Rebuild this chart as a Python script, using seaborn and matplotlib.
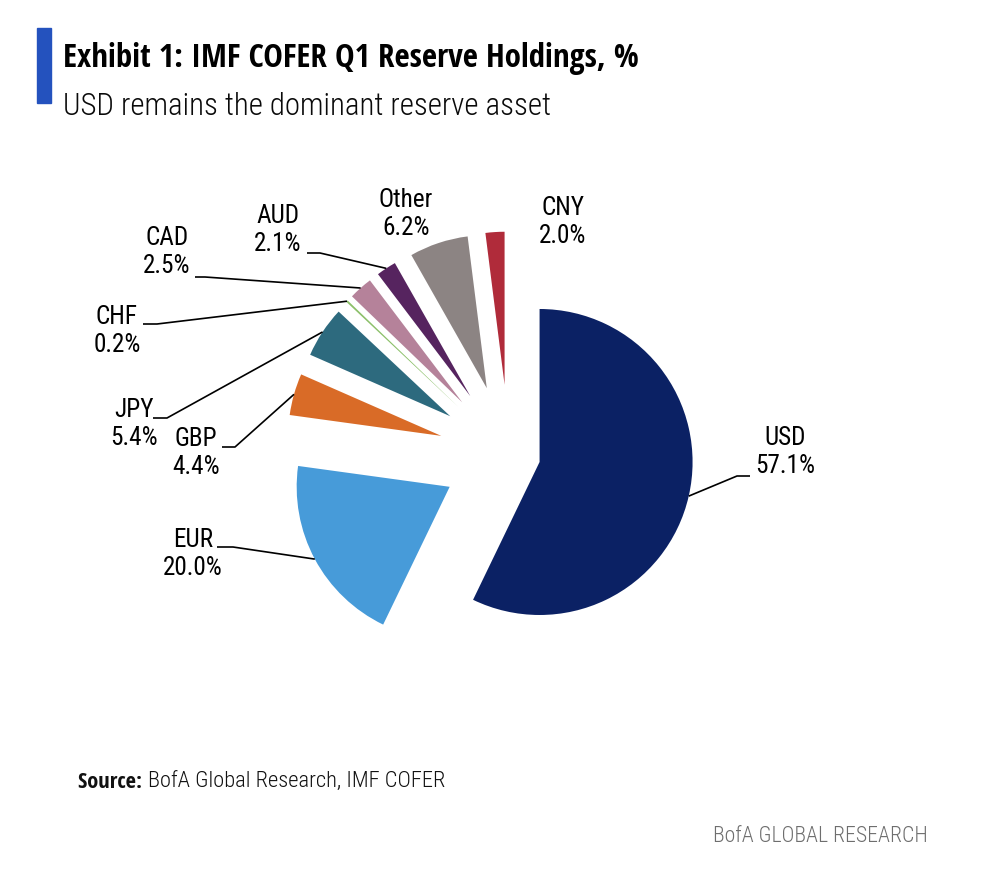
import numpy as np
import pandas as pd
import matplotlib
matplotlib.use("Agg")
import matplotlib.pyplot as plt
import seaborn as sns
from matplotlib import font_manager
from matplotlib.patches import Rectangle

# ---------------- data ----------------
currencies = ["USD", "EUR", "GBP", "JPY", "CHF", "CAD", "AUD", "Other", "CNY"]
shares = [57.1, 20.0, 4.4, 5.4, 0.2, 2.5, 2.1, 6.2, 2.0]

title = "Exhibit 1: IMF COFER Q1 Reserve Holdings, %"
subtitle = "USD remains the dominant reserve asset"
source_bold = "Source:"
source_rest = "BofA Global Research, IMF COFER"
brand = "BofA GLOBAL RESEARCH"

# ---------------- style ----------------
colors = ["#0B2164", "#479BD9", "#D96B27", "#2D6A7E", "#8CC06A",
          "#B5829A", "#56245F", "#8C8483", "#B02B3A"]
explode_frac = [0.205, 0.44, 0.46, 0.46, 0.46, 0.46, 0.46, 0.46, 0.46]

df = pd.DataFrame({"currency": currencies, "share": shares})

sns.set_theme(style="white")


def pick(cands):
    for c in cands:
        try:
            font_manager.findfont(font_manager.FontProperties(family=c),
                                  fallback_to_default=False)
            return c
        except Exception:
            pass
    return "DejaVu Sans"


head_font = pick(["Open Sans Condensed", "Roboto Condensed",
                  "Liberation Sans Narrow", "Open Sans", "Lato"])
light_font = pick(["Open Sans Condensed Light", "Roboto Condensed Light",
                   "Roboto Condensed", "Liberation Sans Narrow", "Open Sans"])
label_font = pick(["Liberation Sans Narrow", "Roboto Condensed",
                   "Liberation Sans", "Arial"])
plt.rcParams["font.family"] = [label_font, "DejaVu Sans"]

W, H = 982, 882
fig = plt.figure(figsize=(W / 100, H / 100), dpi=100)
ax = fig.add_axes([0, 0, 1, 1])

R = 153
cx, cy = 509, 455
wedges, _ = ax.pie(df["share"], colors=colors,
                   explode=[e * R for e in explode_frac],
                   startangle=90, counterclock=False, radius=R,
                   center=(cx, H - cy), wedgeprops=dict(linewidth=0),
                   frame=False)
ax.set_xlim(0, W)
ax.set_ylim(0, H)
ax.set_aspect("equal")
ax.axis("off")


def P(x, y):
    return x, H - y


renderer = fig.canvas.get_renderer()


def fit_width(t, target):
    for _ in range(2):
        w = t.get_window_extent(renderer).width
        t.set_fontsize(t.get_fontsize() * target / w)


# ---------------- labels & leader lines ----------------
label_pos = {"USD": (785, 452), "EUR": (193, 554), "GBP": (196, 453),
             "JPY": (134, 424), "CHF": (117, 331), "CAD": (167, 252),
             "AUD": (278, 230), "Other": (406, 214), "CNY": (563, 222)}
elbows = {"USD": [(737, 476), (750, 476)],
          "EUR": [(233, 547), (217, 547)],
          "GBP": [(235, 447), (222, 447)],
          "JPY": [(167, 418), (153, 418)],
          "CHF": [(157, 324), (143, 324)],
          "CAD": [(205, 277), (195, 277)],
          "AUD": [(320, 253), (307, 253)]}

narrow = label_font in ("Liberation Sans Narrow", "Roboto Condensed")
probe = ax.text(0, 0, "57.1%", fontsize=18, family=[label_font, "DejaVu Sans"])
fit_width(probe, 60 if narrow else 63)
lab_fs = probe.get_fontsize()
probe.remove()

for w, cur, val in zip(wedges, currencies, shares):
    lx, ly = label_pos[cur]
    ax.text(*P(lx, ly), f"{cur}\n{val:.1f}%", ha="center", va="center",
            multialignment="center", fontsize=lab_fs, linespacing=1.18,
            color="black", family=[label_font, "DejaVu Sans"])
    if cur in elbows:
        mid = np.deg2rad((w.theta1 + w.theta2) / 2)
        sx = w.center[0] + w.r * np.cos(mid)
        sy = w.center[1] + w.r * np.sin(mid)
        pts = [P(*p) for p in elbows[cur]]
        xs = [sx] + [p[0] for p in pts]
        ys = [sy] + [p[1] for p in pts]
        ax.plot(xs, ys, color="black", lw=1.2, solid_capstyle="butt")

# ---------------- header / footer ----------------
fig.patches.append(Rectangle((37 / W, 1 - 103 / H), 14 / W, 75 / H,
                             transform=fig.transFigure, color="#2452BE",
                             zorder=5))

HF = [head_font, "DejaVu Sans"]
LF = [light_font, "DejaVu Sans"]
t1 = ax.text(*P(63, 67), title, ha="left", va="baseline", fontsize=20,
             fontweight="bold", color="black", family=HF,
             fontstretch="condensed")
fit_width(t1, 577)
t2 = ax.text(*P(63, 115), subtitle, ha="left", va="baseline", fontsize=20,
             fontweight="light", color="#0A0A0A", family=LF)
fit_width(t2, 487)

# source line: bold part + light part
fs = 14
src = []
for _ in range(3):
    for t in src:
        t.remove()
    sb = ax.text(*P(78, 788), source_bold + " ", ha="left", va="baseline",
                 fontsize=fs, fontweight="bold", color="#111111",
                 family=HF, fontstretch="condensed")
    bb = sb.get_window_extent(renderer)
    sr = ax.text(bb.x1, H - 788, source_rest, ha="left", va="baseline",
                 fontsize=fs, fontweight="light", color="#111111", family=LF)
    src = [sb, sr]
    total = sr.get_window_extent(renderer).x1 - 78
    fs = fs * (444 - 78) / total

tb = ax.text(*P(928, 842), brand, ha="right", va="baseline", fontsize=14,
             fontweight="light", color="#6E6E6E", family=LF)
fit_width(tb, 215)

fig.savefig("out.png", dpi=100)
